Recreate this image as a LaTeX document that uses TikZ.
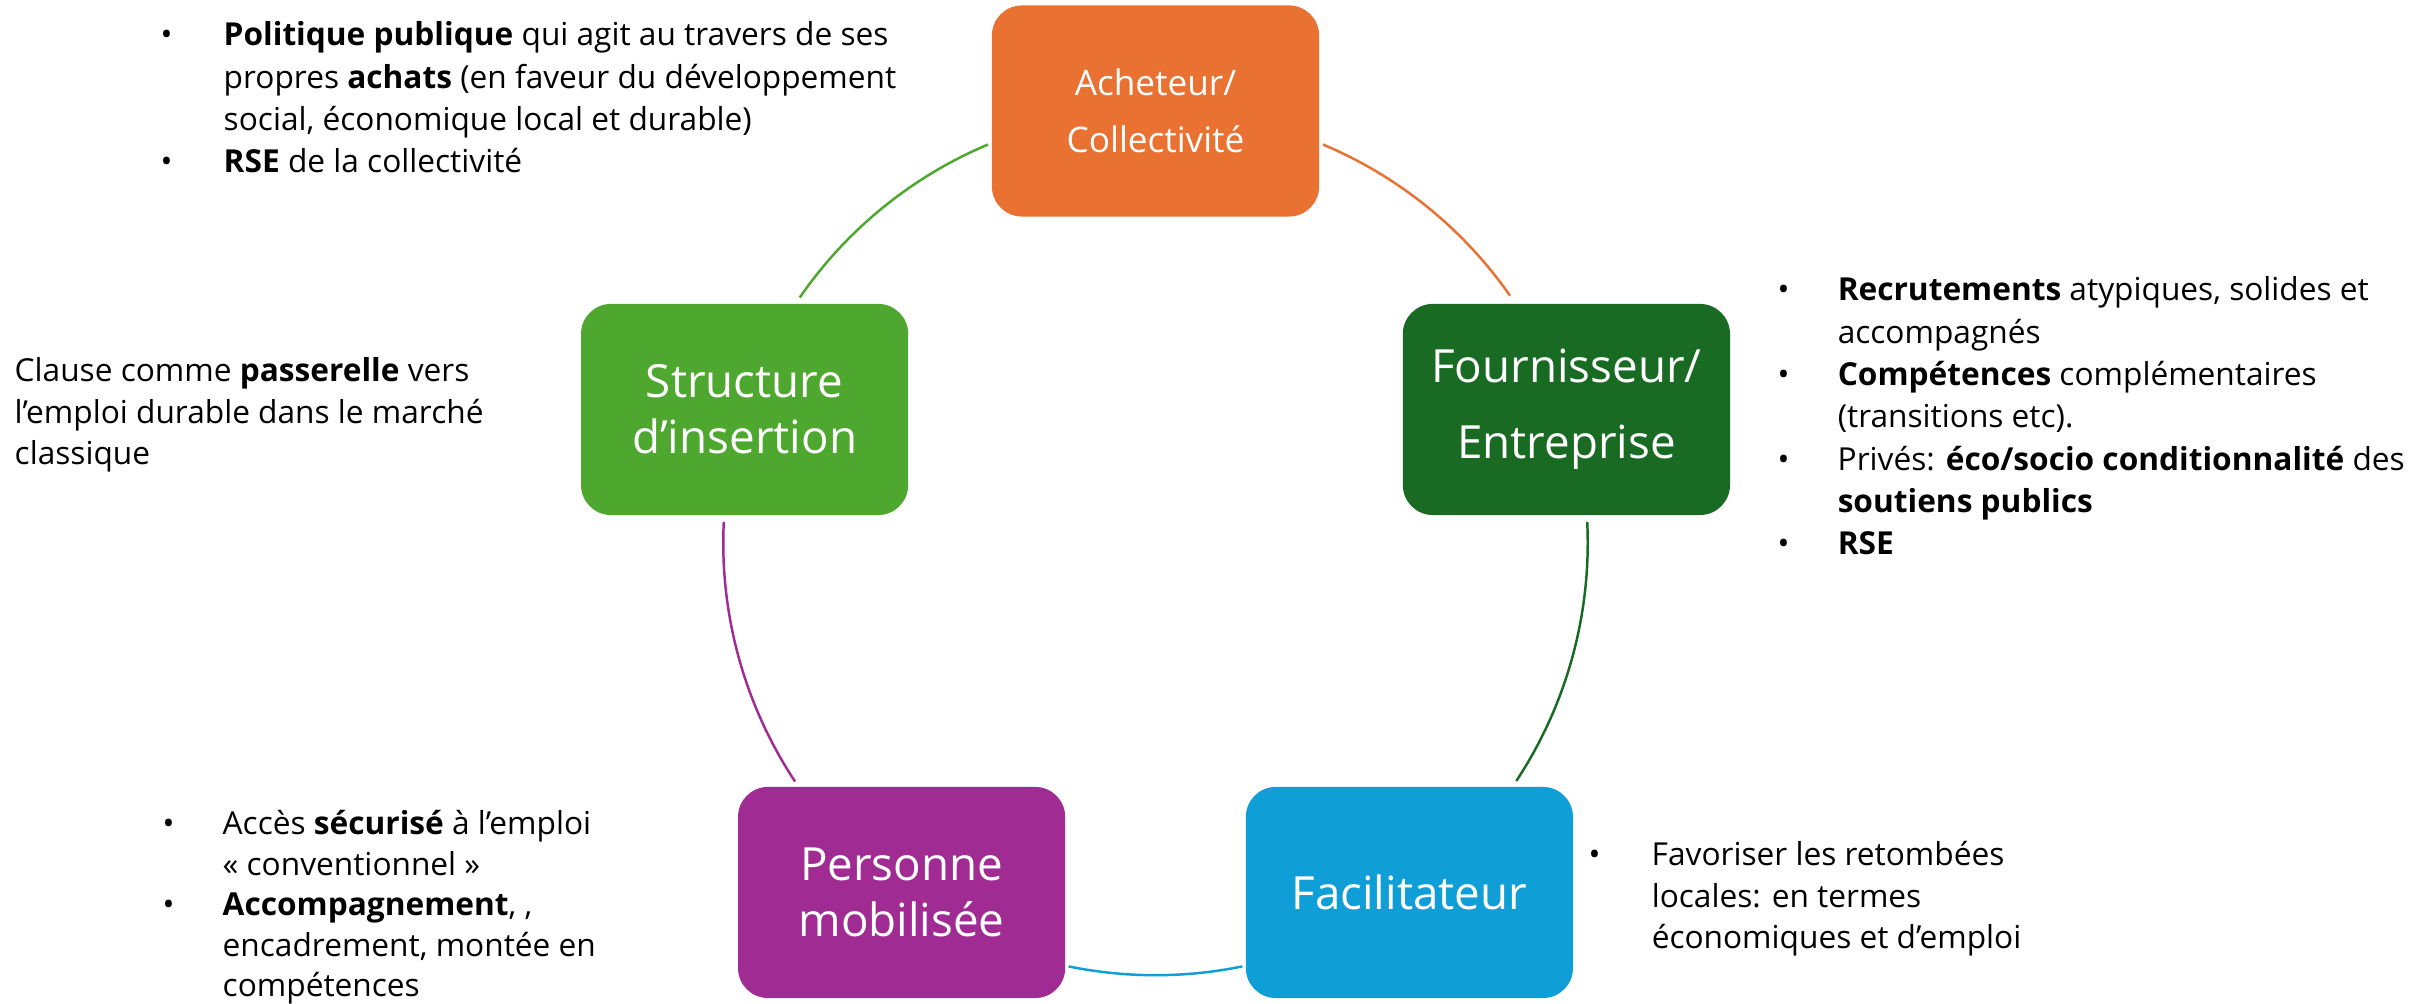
\documentclass[tikz,border=0pt]{standalone}
\usepackage{fontspec}
\setmainfont{Open Sans}
\usetikzlibrary{calc}
\definecolor{cOrange}{HTML}{E97132}
\definecolor{cGreen}{HTML}{4EA72E}
\definecolor{cDark}{HTML}{196B24}
\definecolor{cBlue}{HTML}{0F9ED5}
\definecolor{cPurple}{HTML}{A02B93}
\newcommand\fstrut{\rule{0pt}{9pt}}
\newcommand\bl[1]{\makebox[#1][l]{•}}
\begin{document}
\begin{tikzpicture}[x=0.01cm,y=0.01cm,
  box/.style={rectangle, rounded corners=0.3cm, minimum width=3.27cm, minimum height=2.11cm, inner sep=0pt, text=white, align=center},
  txt/.style={anchor=north west, inner sep=0pt, align=left, font=\fontsize{9pt}{11.8pt}\selectfont, text=black},
  wide/.style={font=\fontsize{9pt}{12.05pt}\selectfont},
  tight/.style={font=\fontsize{9pt}{11.5pt}\selectfont},
  link/.style={line width=0.7pt}]
\useasboundingbox[fill=white] (0,0) rectangle (2435,1004);
\coordinate (C) at (1155.5,461);
% boxes
\node[box, fill=cOrange, font=\fontsize{10pt}{16.2pt}\selectfont] (ach) at (1155.5,893) {Acheteur/\\Collectivité};
\node[box, fill=cDark, font=\fontsize{13pt}{21.6pt}\selectfont] (four) at (1566.4,594.5) {Fournisseur/\\Entreprise};
\node[box, fill=cBlue, font=\fontsize{13pt}{15.9pt}\selectfont] (fac) at (1409.4,111.5) {Facilitateur};
\node[box, fill=cPurple, font=\fontsize{13pt}{15.7pt}\selectfont] (pers) at (901.6,111.5) {Personne\\mobilisée};
\node[box, fill=cGreen, font=\fontsize{13pt}{15.9pt}\selectfont] (struc) at (744.6,594.5) {Structure\\d’insertion};
% arcs of the cycle
\coordinate (s1) at ($(C)+(67.2:4.32cm)$);
\coordinate (s2) at ($(C)+(2.8:4.32cm)$);
\coordinate (s3) at ($(C)+(-78.4:4.32cm)$);
\coordinate (s4) at ($(C)+(-146.5:4.32cm)$);
\coordinate (s5) at ($(C)+(145.4:4.32cm)$);
\draw[link, cOrange] (s1) arc[start angle=67.2, end angle=34.9, radius=4.32cm];
\draw[link, cDark] (s2) arc[start angle=2.8, end angle=-33.4, radius=4.32cm];
\draw[link, cBlue] (s3) arc[start angle=-78.4, end angle=-101.6, radius=4.32cm];
\draw[link, cPurple] (s4) arc[start angle=-146.5, end angle=-182.8, radius=4.32cm];
\draw[link, cGreen] (s5) arc[start angle=145.4, end angle=112.8, radius=4.32cm];
% text blocks
\node[txt, wide] (t1) at (160,990.6) {\bl{0.63cm}\fstrut\textbf{Politique publique} qui agit au travers de ses\\
\hspace*{0.63cm}propres \textbf{achats} (en faveur du développement\\
\hspace*{0.63cm}social, économique local et durable)\\
\bl{0.63cm}\textbf{RSE} de la collectivité};
\node[txt, wide] (t2) at (1777,735.6) {\bl{0.60cm}\fstrut\textbf{Recrutements} atypiques, solides et\\
\hspace*{0.60cm}accompagnés\\
\bl{0.60cm}\textbf{Compétences} complémentaires\\
\hspace*{0.60cm}(transitions etc).\\
\bl{0.60cm}Privés: \textbf{éco/socio conditionnalité} des\\
\hspace*{0.60cm}\textbf{soutiens publics}\\
\bl{0.60cm}\textbf{RSE}};
\node[txt] (t3) at (14,654.6) {\fstrut Clause comme \textbf{passerelle} vers\\
l’emploi durable dans le marché\\
classique};
\node[txt, tight] (t4) at (162,201.6) {\bl{0.60cm}\fstrut Accès \textbf{sécurisé} à l’emploi\\
\hspace*{0.60cm}« conventionnel »\\
\bl{0.60cm}\textbf{Accompagnement}, ,\\
\hspace*{0.60cm}encadrement, montée en\\
\hspace*{0.60cm}compétences};
\node[txt] (t5) at (1588,170.6) {\bl{0.63cm}\fstrut Favoriser les retombées\\
\hspace*{0.63cm}locales: en termes\\
\hspace*{0.63cm}économiques et d’emploi};
\end{tikzpicture}
\end{document}
